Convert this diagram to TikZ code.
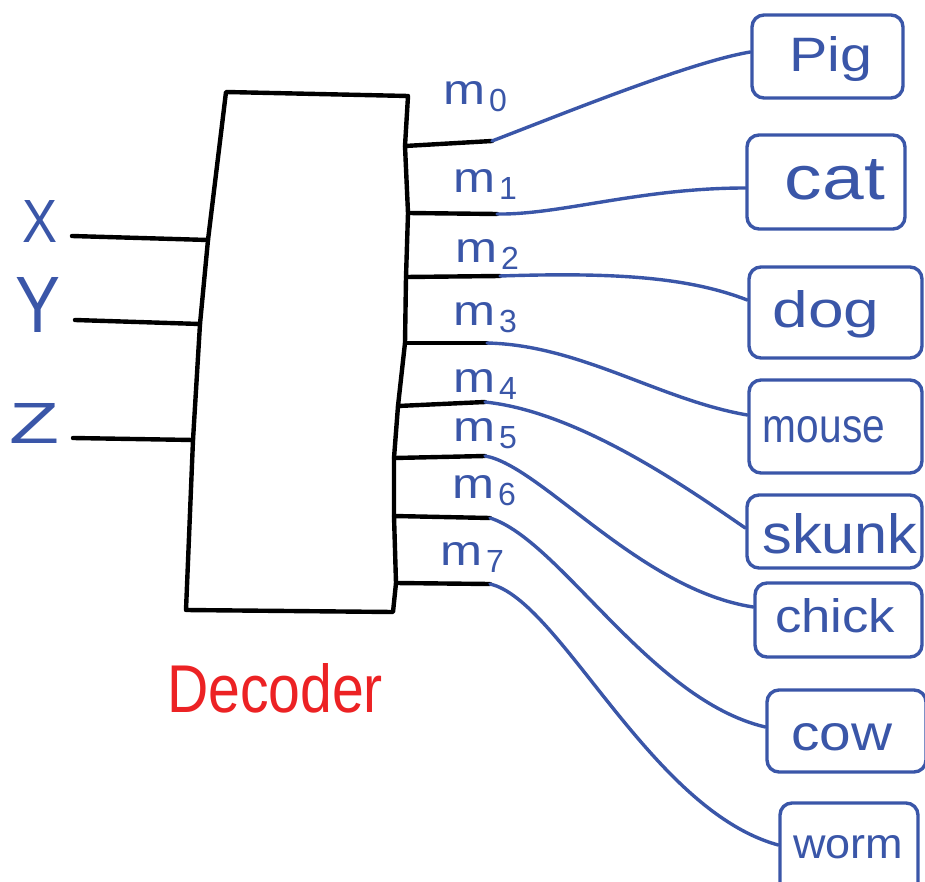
\documentclass[tikz,border=0pt]{standalone}
\usepackage{fontspec}
\setmainfont{Liberation Sans}
\usepackage{graphicx}
\definecolor{ink}{RGB}{58,86,168}
\definecolor{redink}{RGB}{236,34,36}

% fit a word into a box of given width and height (in pt)
\newcommand{\fitword}[3]{\resizebox{#1pt}{#2pt}{#3}}
% output label m with its index
\newcommand{\mlab}[1]{\resizebox{42pt}{23pt}{m}\hspace{4pt}\raisebox{-7pt}{\fontsize{32}{32}\selectfont #1}}

\tikzset{
  wire/.style={line width=4.4pt, line cap=round, line join=round, black},
  link/.style={line width=3.4pt, line cap=round, ink},
  tag/.style={draw=ink, line width=3.4pt, rounded corners=12pt, inner sep=0pt},
  word/.style={text=ink, inner sep=0pt, anchor=base},
  inword/.style={text=ink, inner sep=0pt, anchor=center},
}

\begin{document}
\begin{tikzpicture}[x=1pt,y=-1pt]
\path[use as bounding box] (0,0) rectangle (925,882);
\clip (0,0) rectangle (925,882);

% decoder body corners and ports
\coordinate (tl) at (226,92);
\coordinate (tr) at (408,96);
\coordinate (br) at (393,612);
\coordinate (bl) at (186,610);
\coordinate (in1) at (208,240);
\coordinate (in2) at (200,324);
\coordinate (in3) at (193,440);
\coordinate (p0) at (405,146);
\coordinate (p1) at (408,213);
\coordinate (p2) at (406,277);
\coordinate (p3) at (405,343);
\coordinate (p4) at (398,406);
\coordinate (p5) at (394,458);
\coordinate (p6) at (394,516);
\coordinate (p7) at (396,583);

\draw[wire] (tl) -- (tr) -- (p0) -- (p1) -- (p2) -- (p3) -- (p4) -- (p5)
  -- (p6) -- (p7) -- (br) -- (bl) -- (in3) -- (in2) -- (in1) -- cycle;

% output stub ends
\coordinate (e0) at (492,141);
\coordinate (e1) at (497,214);
\coordinate (e2) at (500,276);
\coordinate (e3) at (487,343);
\coordinate (e4) at (485,402);
\coordinate (e5) at (485,456);
\coordinate (e6) at (490,518);
\coordinate (e7) at (490,584);
\foreach \i in {0,...,7} { \draw[wire] (p\i) -- (e\i); }

% inputs
\node[inword] (X) at (40,221) {\fitword{35}{42}{X}};
\node[inword] (Y) at (38,305) {\fitword{45}{55}{Y}};
\node[inword] (Z) at (35,423) {\fitword{50}{40}{Z}};
\coordinate (xa) at (72,236);
\coordinate (ya) at (75,320);
\coordinate (za) at (73,438);
\draw[wire] (xa) -- (in1);
\draw[wire] (ya) -- (in2);
\draw[wire] (za) -- (in3);

% output labels
\node[word, anchor=base west] (m0) at (443,105) {\mlab{0}};
\node[word, anchor=base west] (m1) at (453,193) {\mlab{1}};
\node[word, anchor=base west] (m2) at (455,262) {\mlab{2}};
\node[word, anchor=base west] (m3) at (453,325) {\mlab{3}};
\node[word, anchor=base west] (m4) at (453,392) {\mlab{4}};
\node[word, anchor=base west] (m5) at (453,441) {\mlab{5}};
\node[word, anchor=base west] (m6) at (452,498) {\mlab{6}};
\node[word, anchor=base west] (m7) at (440,565) {\mlab{7}};

% title
\node[inner sep=0pt, text=redink] (title) at (275,688) {\fitword{216}{49}{Decoder}};

% animal boxes
\node[tag, minimum width=151pt, minimum height=83pt] (pig)   at (827.5,56.5) {};
\node[tag, minimum width=158pt, minimum height=94pt] (cat)   at (826,182) {};
\node[tag, minimum width=173pt, minimum height=91pt] (dog)   at (835.5,312.5) {};
\node[tag, minimum width=173pt, minimum height=93pt] (mouse) at (835.5,426.5) {};
\node[tag, minimum width=175pt, minimum height=73pt] (skunk) at (834.5,531.5) {};
\node[tag, minimum width=167pt, minimum height=74pt] (chick) at (838.5,620) {};
\node[tag, minimum width=159pt, minimum height=82pt] (cow)   at (846.5,731) {};
\node[tag, minimum width=138pt, minimum height=92pt] (worm)  at (849,849) {};

% animal names
\node[word] (pigw)   at (831,72)  {\fitword{83}{35}{Pig}};
\node[word] (catw)   at (835,200) {\fitword{100}{40}{cat}};
\node[word] (dogw)   at (826,327) {\fitword{107}{37}{dog}};
\node[word] (mousew) at (824,442) {\fitword{122}{26}{mouse}};
\node[word] (skunkw) at (840,553) {\fitword{155}{40}{skunk}};
\node[word] (chickw) at (835,632) {\fitword{120}{34}{chick}};
\node[word] (coww)   at (842,750) {\fitword{101}{27}{cow}};
\node[word] (wormw)  at (848,858) {\fitword{110}{23}{worm}};

% connectors from outputs to boxes
\draw[link] (e0) .. controls (560,115) and (690,62) .. ([yshift=4.5pt]pig.west);
\draw[link] (e1) .. controls (560,215) and (640,188) .. ([yshift=-6pt]cat.west);
\draw[link] (e2) .. controls (620,272) and (690,278) .. ([yshift=12.5pt]dog.west);
\draw[link] (e3) .. controls (580,345) and (660,400) .. ([yshift=11.5pt]mouse.west);
\draw[link] (e4) .. controls (580,412) and (690,490) .. ([yshift=3.5pt]skunk.west);
\draw[link] (e5) .. controls (540,465) and (640,590) .. ([yshift=13pt]chick.west);
\draw[link] (e6) .. controls (560,540) and (650,700) .. ([yshift=4pt]cow.west);
\draw[link] (e7) .. controls (560,600) and (650,810) .. ([yshift=4pt]worm.west);
\end{tikzpicture}
\end{document}
